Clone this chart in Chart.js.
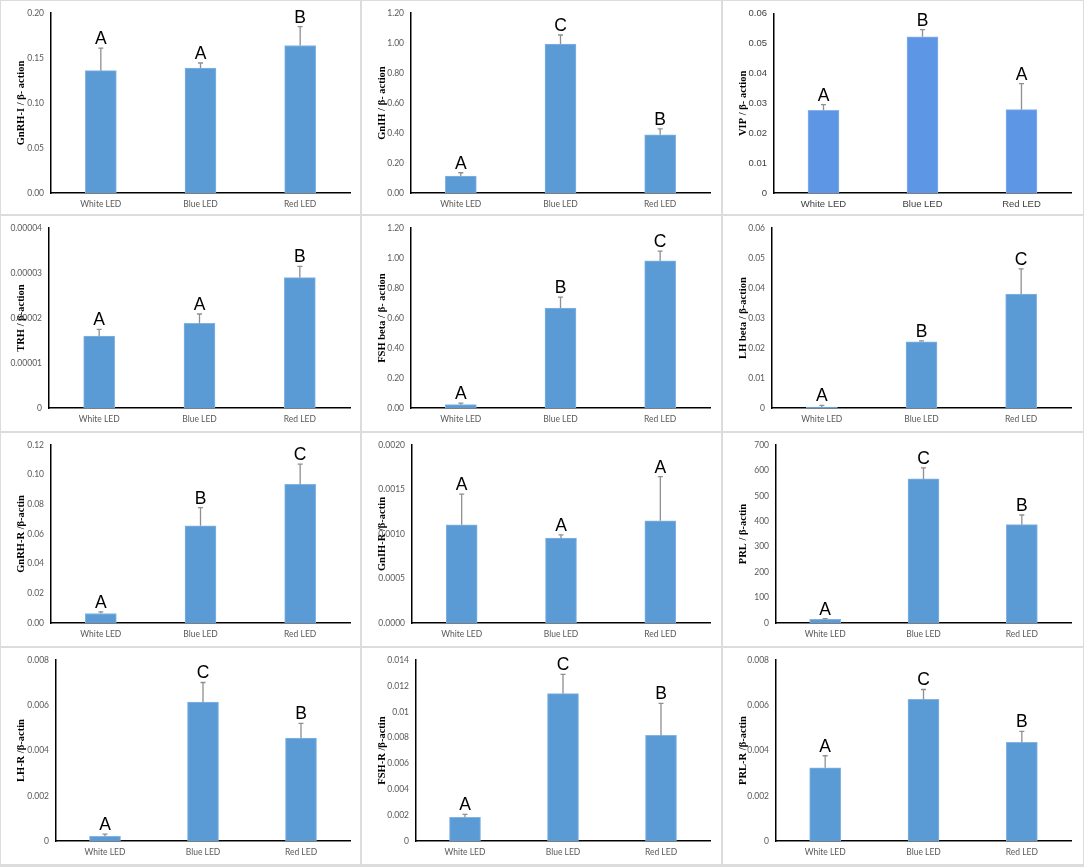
<!DOCTYPE html>
<html>
<head>
<meta charset="utf-8">
<script src="https://cdn.jsdelivr.net/npm/chart.js@4.4.1/dist/chart.umd.min.js"></script>
<style>
  html, body { margin: 0; padding: 0; background: #fff; }
  #grid {
    width: 1084px; height: 867px; box-sizing: border-box;
    display: grid; padding: 1px; gap: 2px;
    grid-template-columns: 359px 359px 360px;
    grid-template-rows: 213px 215px 213px 216px;
    background: #dcdcdc;
  }
  .cell { position: relative; background: #fff; }
  .cell canvas { position: absolute; left: 0; top: 0; }
</style>
</head>
<body>
<div id="grid"></div>
<script>
const categories = ['White LED', 'Blue LED', 'Red LED'];

const yTitles = [
  'GnRH-I / β- action', 'GnIH / β- action', 'VIP / β- action',
  'TRH / β-action', 'FSH beta / β- action', 'LH beta / β-action',
  'GnRH-R /β-actin', 'GnIH-R /β-actin', 'PRL / β-actin',
  'LH-R /β-actin', 'FSH-R /β-actin', 'PRL-R /β-actin'
];

// bar heights (mean) per panel
const meanValues = [
  [0.136, 0.139, 0.164],
  [0.113, 0.994, 0.388],
  [0.0277, 0.0523, 0.0279],
  [0.0000160, 0.0000188, 0.0000290],
  [0.022, 0.667, 0.981],
  [0.0003, 0.0221, 0.0380],
  [0.0064, 0.0656, 0.0935],
  [0.001105, 0.000954, 0.001149],
  [14, 567, 387],
  [0.00021, 0.00614, 0.00455],
  [0.00183, 0.0114, 0.00817],
  [0.00324, 0.00626, 0.00436]
];

// error bar lengths (upper side only)
const errValues = [
  [0.025, 0.0055, 0.021],
  [0.022, 0.060, 0.040],
  [0.0019, 0.0024, 0.0087],
  [0.0000015, 0.0000021, 0.0000025],
  [0.011, 0.073, 0.066],
  [0.0006, 0.0003, 0.0084],
  [0.0011, 0.0122, 0.0137],
  [0.000343, 0.000037, 0.000497],
  [3, 43, 38],
  [0.00009, 0.00087, 0.00065],
  [0.00023, 0.0015, 0.00248],
  [0.00053, 0.00044, 0.00049]
];

const letters = [
  ['A', 'A', 'B'], ['A', 'C', 'B'], ['A', 'B', 'A'],
  ['A', 'A', 'B'], ['A', 'B', 'C'], ['A', 'B', 'C'],
  ['A', 'B', 'C'], ['A', 'A', 'A'], ['A', 'C', 'B'],
  ['A', 'C', 'B'], ['A', 'C', 'B'], ['A', 'C', 'B']
];

const tickLabels = [
  ['0.00', '0.05', '0.10', '0.15', '0.20'],
  ['0.00', '0.20', '0.40', '0.60', '0.80', '1.00', '1.20'],
  ['0', '0.01', '0.02', '0.03', '0.04', '0.05', '0.06'],
  ['0', '0.00001', '0.00002', '0.00003', '0.00004'],
  ['0.00', '0.20', '0.40', '0.60', '0.80', '1.00', '1.20'],
  ['0', '0.01', '0.02', '0.03', '0.04', '0.05', '0.06'],
  ['0.00', '0.02', '0.04', '0.06', '0.08', '0.10', '0.12'],
  ['0.0000', '0.0005', '0.0010', '0.0015', '0.0020'],
  ['0', '100', '200', '300', '400', '500', '600', '700'],
  ['0', '0.002', '0.004', '0.006', '0.008'],
  ['0', '0.002', '0.004', '0.006', '0.008', '0.01', '0.012', '0.014'],
  ['0', '0.002', '0.004', '0.006', '0.008']
];

// layout of each cell: y-axis width, top padding, bottom padding, right padding
const axisWidths = [50, 49, 51, 48, 49, 49, 50, 50, 53, 55, 54, 53];
const padTops = [11, 11, 11, 11, 11, 11, 9, 9, 9, 12, 12, 12];
const padBottoms = [5, 5, 5, 7, 7, 7, 7, 7, 7, 7, 7, 7];
const padRights = [10, 11, 12, 10, 11, 12, 10, 11, 12, 10, 11, 12];

const errorBarPlugin = {
  id: 'errorBars',
  afterDatasetsDraw(chart, args, opts) {
    const { ctx, scales: { y } } = chart;
    const i = opts.panel;
    const meta = chart.getDatasetMeta(0);
    ctx.save();
    meta.data.forEach((bar, j) => {
      const base = y.getPixelForValue(meanValues[i][j]);
      const top = y.getPixelForValue(meanValues[i][j] + errValues[i][j]);
      ctx.strokeStyle = '#8f8f8f';
      ctx.lineWidth = 1.3;
      ctx.beginPath();
      ctx.moveTo(bar.x, base);
      ctx.lineTo(bar.x, top);
      ctx.moveTo(bar.x - 2.5, top);
      ctx.lineTo(bar.x + 2.5, top);
      ctx.stroke();

      ctx.fillStyle = '#000';
      ctx.font = '17.5px "Liberation Sans", Arial, sans-serif';
      ctx.textAlign = 'center';
      ctx.textBaseline = 'alphabetic';
      ctx.fillText(letters[i][j], bar.x, top - 4);
    });
    ctx.restore();
  }
};

function makeChart(i) {
  const cell = document.createElement('div');
  cell.className = 'cell';
  const canvas = document.createElement('canvas');
  cell.appendChild(canvas);
  document.getElementById('grid').appendChild(cell);
  canvas.width = cell.clientWidth;
  canvas.height = cell.clientHeight;

  const isVip = i === 2;
  const tickFont = isVip
    ? { family: '"Liberation Sans", Arial, sans-serif', size: 9.5 }
    : { family: 'Lato, "Open Sans", sans-serif', size: 8.5 };
  const tickColor = isVip ? '#404040' : '#595959';
  const tickValues = tickLabels[i].map(Number);

  new Chart(canvas, {
    type: 'bar',
    data: {
      labels: categories,
      datasets: [{
        data: meanValues[i],
        backgroundColor: isVip ? '#5e96e6' : '#5b9bd5',
        borderColor: isVip ? '#86b0ee' : '#82b3e2',
        borderWidth: 1,
        barThickness: 31
      }]
    },
    options: {
      responsive: false,
      animation: false,
      events: [],
      layout: {
        padding: { left: 0, top: padTops[i], bottom: padBottoms[i], right: padRights[i] }
      },
      plugins: {
        legend: { display: false },
        tooltip: { enabled: false },
        errorBars: { panel: i }
      },
      scales: {
        x: {
          grid: { display: false, drawTicks: false },
          border: { display: true, color: '#000', width: 1.5 },
          ticks: { color: tickColor, font: tickFont, padding: 6, maxRotation: 0 },
          afterFit: scale => { scale.height = 16; }
        },
        y: {
          min: 0,
          max: tickValues[tickValues.length - 1],
          grid: { display: false, drawTicks: false },
          border: { display: true, color: '#000', width: 1.5 },
          afterBuildTicks: scale => { scale.ticks = tickValues.map(v => ({ value: v })); },
          ticks: {
            color: tickColor,
            font: tickFont,
            padding: 7,
            callback: (v, idx) => tickLabels[i][idx]
          },
          title: {
            display: true,
            text: yTitles[i],
            color: '#000',
            font: { family: '"Liberation Serif", "Times New Roman", serif', size: 10.5, weight: 'bold' },
            padding: { top: 14, bottom: 0 }
          },
          afterFit: scale => { scale.width = axisWidths[i]; }
        }
      }
    },
    plugins: [errorBarPlugin]
  });
}

for (let i = 0; i < 12; i++) makeChart(i);
</script>
</body>
</html>
